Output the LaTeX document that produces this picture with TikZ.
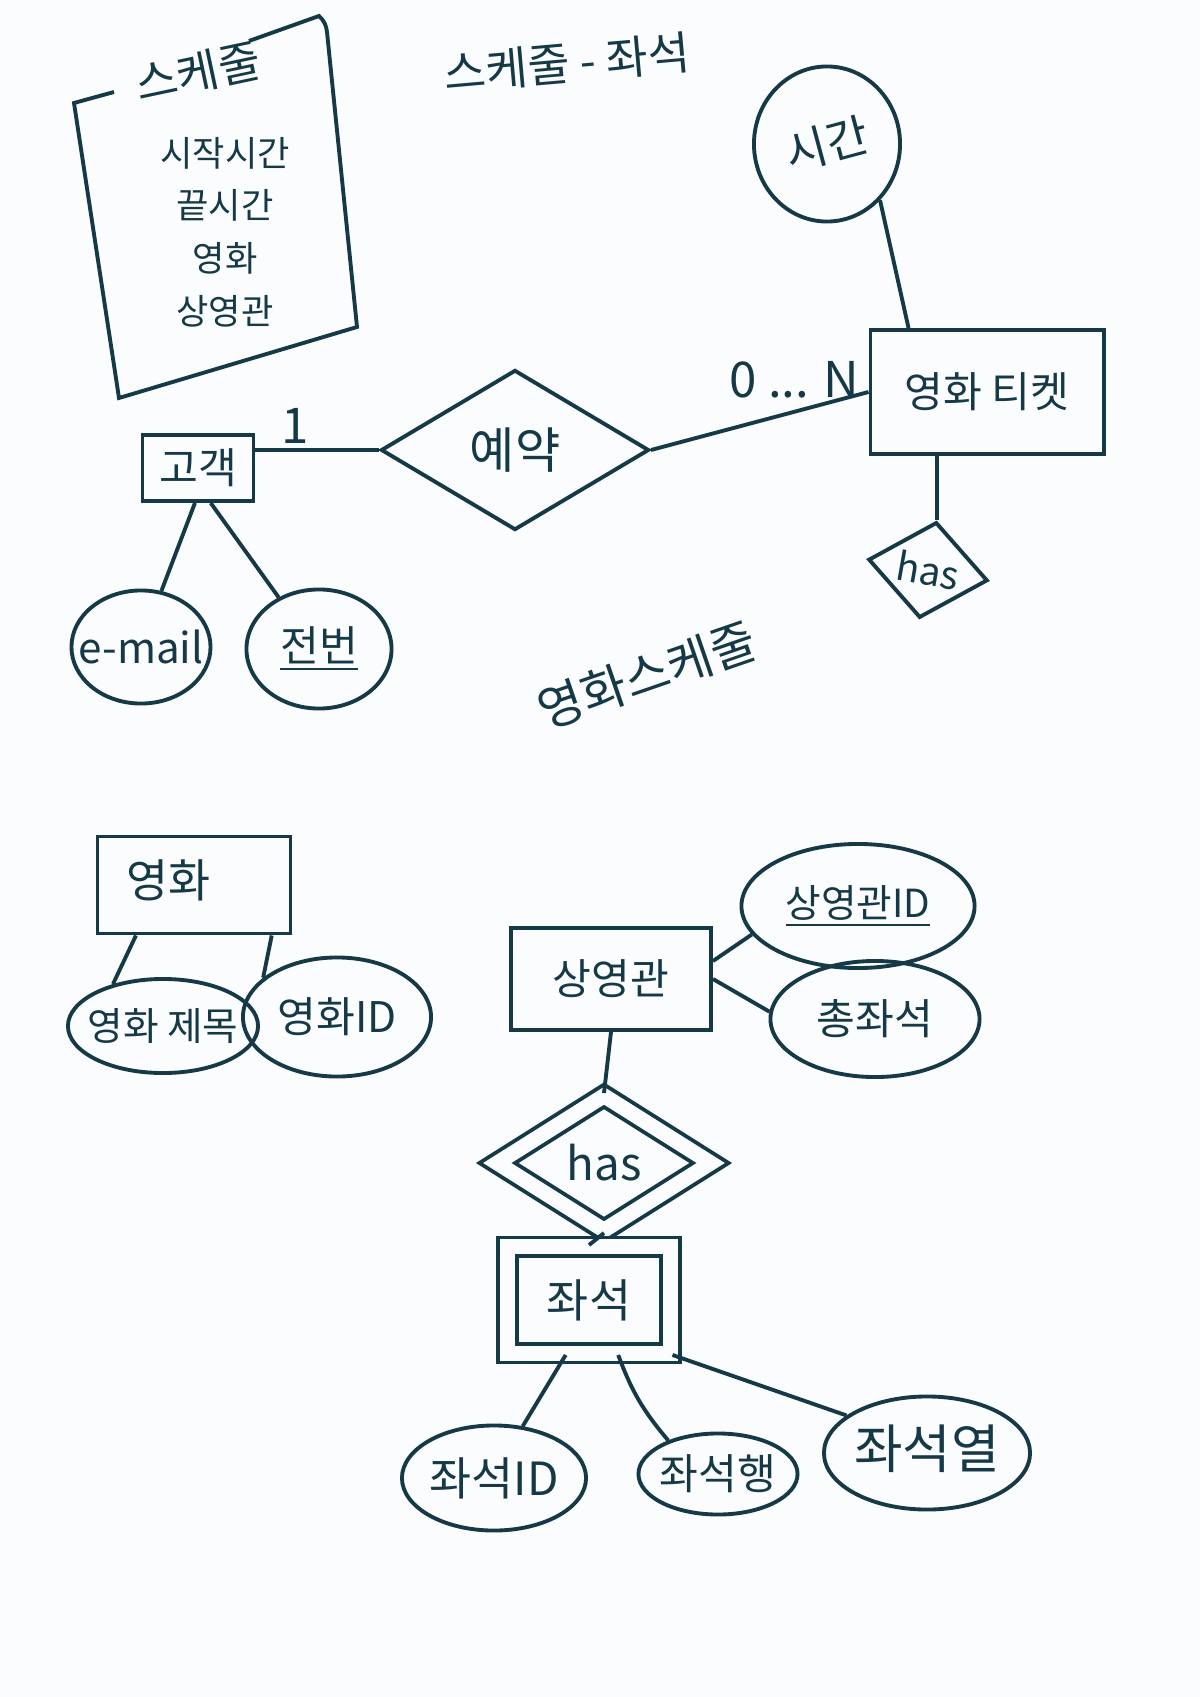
\documentclass[tikz,border=0pt]{standalone}
\usepackage{fontspec}
\setmainfont{Noto Sans CJK KR}
\usepackage{xcolor}
\usepackage{graphicx}
\usepackage{tikz}
\usetikzlibrary{shapes.geometric,positioning}
\definecolor{ink}{RGB}{21,57,71}
\definecolor{paper}{RGB}{251,252,253}
\newcommand{\inbox}[1]{\makebox[0pt]{#1}}

\begin{document}
\begin{tikzpicture}[x=0.01cm, y=-0.01cm, line width=1.1pt, ink,
    every node/.style={text=ink},
    entity/.style={draw, rectangle, inner sep=0pt},
    attr/.style={draw, ellipse, inner sep=0pt},
    rel/.style={draw, diamond, inner sep=0pt},
    weak/.style={double=paper, double distance=0.15cm},
    f10/.style={font=\fontsize{10}{15}\selectfont},
    f11/.style={font=\fontsize{11}{13}\selectfont},
    f12/.style={font=\fontsize{12}{14}\selectfont},
    f13/.style={font=\fontsize{13}{15}\selectfont},
    f14/.style={font=\fontsize{14}{16}\selectfont},
    f15/.style={font=\fontsize{15}{17}\selectfont}]
  \fill[paper] (0,0) rectangle (1200,1697);
  \useasboundingbox (0,0) rectangle (1200,1697);

  % schedule note
  \draw (249,41) -- (319,16) to[bend left=20] (327,32) -- (357,327) -- (119,398) -- (74,103) -- (114,92);
  \node[f13, rotate=12] (schedtitle) at (198,72) {스케줄};
  \node[f10, align=center] (schedbody) at (225,232) {시작시간\\끝시간\\영화\\상영관};
  \node[f13, rotate=5] (schedseat) at (567,63) {스케줄 - 좌석};

  % reservation
  \node[attr, f13, minimum width=1.46cm, minimum height=1.55cm] (sigan) at (827,144) {\inbox{\rotatebox{15}{시간}}};
  \node[entity, f12, minimum width=2.33cm, minimum height=1.24cm] (ticket) at (987,392) {영화 티켓};
  \node[rel, f14, minimum width=2.68cm, minimum height=1.6cm] (yeyak) at (515,450) {\inbox{예약}};
  \node[entity, f12, minimum width=1.11cm, minimum height=0.66cm] (gogaek) at (198,468) {고객};
  \node[attr, f12, minimum width=1.39cm, minimum height=1.13cm] (email) at (141,647) {\inbox{e-mail}};
  \node[attr, f12, minimum width=1.45cm, minimum height=1.19cm] (jeonbeon) at (319,649) {\inbox{\underline{전번}}};
  \node[rel, f11, minimum width=1.21cm, minimum height=0.97cm, rotate=-10] (hasa) at (928,570) {\inbox{has}};
  \node[f14, rotate=19] (moviesched) at (647,675) {영화스케줄};

  \draw (sigan.south east) -- ([xshift=4mm]ticket.north west);
  \draw (gogaek.east |- yeyak.west) -- node[f14, pos=0.32, above=-2pt] (one) {1} (yeyak.west);
  \draw (yeyak.east) -- node[f14, pos=0.66, above=0pt] (card) {0 ... N} (ticket.west);
  \draw (gogaek.265) -- (email.70);
  \draw (gogaek.290) -- (jeonbeon.128);
  \draw (ticket.south -| hasa.north) -- (hasa.north);

  % movie
  \node[entity, f13, minimum width=1.93cm, minimum height=0.97cm] (movie) at (194,885) {\inbox{\hspace*{-0.5cm}\raisebox{0.12cm}{영화}}};
  \node[attr, f11, minimum width=1.9cm, minimum height=0.94cm] (movietitle) at (163,1026) {\inbox{영화 제목}};
  \node[attr, f12, minimum width=1.88cm, minimum height=1.19cm] (movieid) at (337,1017) {\inbox{영화ID}};
  \draw (movie.221) -- (movietitle.140);
  \draw (movie.327) -- (movieid.152);

  % hall and seats
  \node[entity, f12, minimum width=2cm, minimum height=1.02cm] (hall) at (611,979) {상영관};
  \node[attr, f11, minimum width=2.33cm, minimum height=1.24cm] (hallid) at (858,906) {\inbox{\underline{상영관ID}}};
  \node[attr, f12, minimum width=2.09cm, minimum height=1.16cm] (totalseat) at (875,1019) {\inbox{총좌석}};
  \node[rel, weak, f13, minimum width=2.15cm, minimum height=1.36cm] (hasb) at (604,1163) {\inbox{has}};
  \node[entity, weak, f13, minimum width=1.63cm, minimum height=1.06cm] (seat) at (589,1300) {좌석};
  \node[attr, f13, minimum width=1.84cm, minimum height=1.05cm] (seatid) at (494,1478) {\inbox{좌석ID}};
  \node[attr, f12, minimum width=1.59cm, minimum height=0.81cm] (seatrow) at (718,1474) {\inbox{좌석행}};
  \node[attr, f15, minimum width=2.06cm, minimum height=1.13cm] (seatcol) at (927,1453) {\inbox{\raisebox{0.12cm}{좌석열}}};

  \draw (hall.10) -- (hallid.195);
  \draw (hall.0) -- (totalseat.176);
  \draw (hall.south) -- (hasb.north);
  \draw (hasb.south) -- (seat.north);
  \draw (seat.247) -- (seatid.61);
  \draw (seat.298) to[bend right=10] (seatrow.146);
  \draw (seat.south east) -- (seatcol.155);
\end{tikzpicture}
\end{document}
